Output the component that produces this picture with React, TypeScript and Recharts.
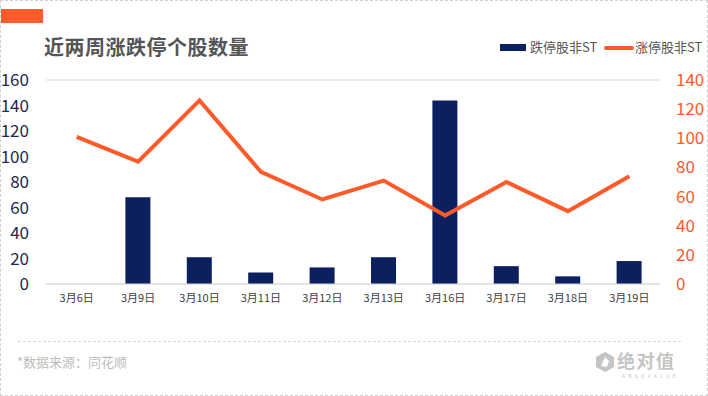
import { ComposedChart, Bar, Line, XAxis, YAxis, CartesianGrid } from 'recharts';

const dates = ['3月6日', '3月9日', '3月10日', '3月11日', '3月12日', '3月13日', '3月16日', '3月17日', '3月18日', '3月19日'];
const limitDown = [0, 68, 21, 9, 13, 21, 144, 14, 6, 18];
const limitUp = [101, 84, 126, 77, 58, 71, 47, 70, 50, 74];
const leftTicks = [0, 20, 40, 60, 80, 100, 120, 140, 160];
const rightTicks = [0, 20, 40, 60, 80, 100, 120, 140];

const NAVY = '#0c1f5f';
const ORANGE = '#ff5a2a';
const FONT = '"Noto Sans CJK SC", "Noto Sans", sans-serif';

const data = dates.map((d, i) => ({ date: d, down: limitDown[i], up: limitUp[i] }));

export default function App() {
  return (
    <div
      style={{
        position: 'absolute',
        left: 0,
        top: 0,
        width: 708,
        height: 396,
        boxSizing: 'border-box',
        border: '1px dashed #cfcfcf',
        background: '#fff',
        fontFamily: FONT,
        overflow: 'hidden',
      }}
    >
      {/* orange tag top-left */}
      <div style={{ position: 'absolute', left: -1, top: 8, width: 43, height: 14, background: ORANGE }} />

      {/* title */}
      <div
        style={{
          position: 'absolute',
          left: 43,
          top: 33,
          fontSize: 20,
          fontWeight: 700,
          color: '#555',
          lineHeight: '26px',
          letterSpacing: 0.5,
        }}
      >
        近两周涨跌停个股数量
      </div>

      {/* legend */}
      <div style={{ position: 'absolute', left: 499, top: 43, width: 26, height: 7, background: NAVY }} />
      <div style={{ position: 'absolute', left: 529, top: 37, fontSize: 13, color: '#555', lineHeight: '18px' }}>跌停股非ST</div>
      <div style={{ position: 'absolute', left: 603, top: 45, width: 30, height: 4, borderRadius: 2, background: ORANGE }} />
      <div style={{ position: 'absolute', left: 634, top: 37, fontSize: 13, color: '#555', lineHeight: '18px' }}>涨停股非ST</div>

      <div style={{ position: 'absolute', left: -1, top: -1 }}>
        <ComposedChart width={708} height={320} data={data} margin={{ top: 80, right: 0, bottom: 0, left: 0 }} barSize={25}>
          <CartesianGrid vertical={false} stroke="#d9d9d9" />
          <XAxis
            dataKey="date"
            height={36}
            tickLine={false}
            tickSize={0}
            tickMargin={10}
            axisLine={{ stroke: '#d9d9d9' }}
            tick={{ fontSize: 11, fill: '#404040', fontFamily: FONT }}
            interval={0}
          />
          <YAxis
            yAxisId="left"
            orientation="left"
            width={46}
            domain={[0, 160]}
            ticks={leftTicks}
            axisLine={false}
            tickLine={false}
            tickSize={0}
            tickMargin={17}
            tick={{ fontSize: 17, fill: '#1b2a55', fontFamily: FONT }}
          />
          <YAxis
            yAxisId="right"
            orientation="right"
            width={48}
            domain={[0, 140]}
            ticks={rightTicks}
            axisLine={false}
            tickLine={false}
            tickSize={0}
            tickMargin={16}
            tick={{ fontSize: 17, fill: ORANGE, fontFamily: FONT }}
          />
          <Bar yAxisId="left" dataKey="down" fill={NAVY} isAnimationActive={false} />
          <Line
            yAxisId="right"
            type="linear"
            dataKey="up"
            stroke={ORANGE}
            strokeWidth={4}
            dot={false}
            activeDot={false}
            isAnimationActive={false}
          />
        </ComposedChart>
      </div>

      {/* footer */}
      <div style={{ position: 'absolute', left: 17, top: 340, width: 663, borderTop: '1px dashed #d9d9d9' }} />
      <div style={{ position: 'absolute', left: 16, top: 351, fontSize: 13, color: '#bdbdbd', lineHeight: '20px' }}>
        *数据来源：同花顺
      </div>
      <svg style={{ position: 'absolute', left: 594, top: 350 }} width={20} height={22} viewBox="0 0 20 22">
        <polygon points="10,1 19,6 19,16 10,21 1,16 1,6" fill="#c4c4c4" />
        <path d="M6,15 L10,6 L14,10 L12,16 Z" fill="#fff" />
      </svg>
      <div style={{ position: 'absolute', left: 616, top: 350, fontSize: 18, fontWeight: 700, color: '#c4c4c4', lineHeight: '18px', letterSpacing: 1.5 }}>
        绝对值
      </div>
      <div style={{ position: 'absolute', left: 621, top: 372, fontSize: 5, color: '#c4c4c4', letterSpacing: 3.2, lineHeight: '6px' }}>
        ABSOVALUE
      </div>
    </div>
  );
}
